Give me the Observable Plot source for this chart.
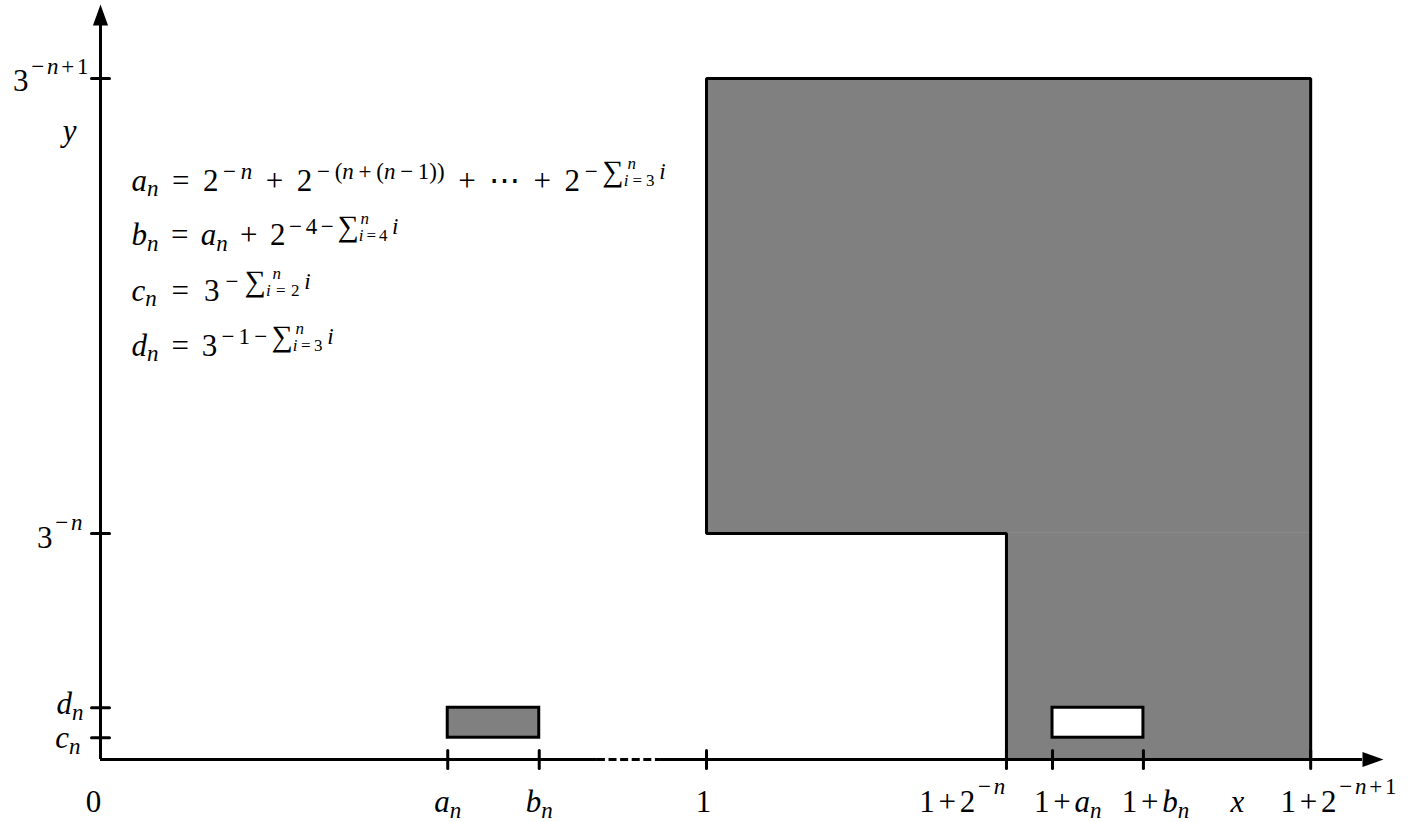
<!DOCTYPE html>
<html>
<head>
<meta charset="utf-8">
<script src="https://cdn.jsdelivr.net/npm/d3@7"></script>
<script src="https://cdn.jsdelivr.net/npm/@observablehq/plot@0.6"></script>
<style>
  html, body { margin: 0; padding: 0; background: #fff; overflow: hidden; }
  svg text, svg tspan { white-space: pre; }
</style>
</head>
<body>
<script>
// ---------- data (schematic units: x = 1 at tick "1", y = 1 at tick 3^{-n+1}) ----------
const xTickValues  = [0.573, 0.724, 1, 1.495, 1.571, 1.721, 1.997];
const xTickLabels  = ["a_{n}", "b_{n}", "1", "1+2^{−n}", "1+a_{n}", "1+b_{n}", "1+2^{−n+1}"];
const xLabelAnchor = [0.573, 0.724, 0.995, 1.422, 1.596, 1.741, 2.043];

const yTickValues  = [0.032, 0.076, 0.332, 1];
const yTickLabels  = ["c_{n}", "d_{n}", "3^{−n}", "3^{−n+1}"];
const yLabelBase   = [0.0176, 0.0675, 0.3113, 0.981];
const yLabelRight  = [-0.033, -0.028, -0.0297, -0.0198];

const axisNames    = ["0", "x", "y"];
const axisNameX    = [-0.0116, 1.876, -0.051];
const axisNameY    = [-0.0764, -0.0764, 0.9075];

const xAxisEnd = 2.0825;
const yAxisEnd = 1.0778;
const xAxisBreak = [0.82, 0.924];

// big shaded region (step shape) and the two small boxes
const shadeParts = [
  {x1: 1, x2: 1.997, y1: 0.332, y2: 1},
  {x1: 1.495, x2: 1.997, y1: 0, y2: 0.332}
];
const shadeOutline = [
  {x: 1.495, y: 0}, {x: 1.495, y: 0.332}, {x: 1, y: 0.332},
  {x: 1, y: 1}, {x: 1.997, y: 1}, {x: 1.997, y: 0}
];
const grayBox  = [{x1: 0.573, x2: 0.724, y1: 0.032, y2: 0.076}];
const whiteBox = [{x1: 1.571, x2: 1.721, y1: 0.032, y2: 0.076}];

const formulas = [
  "a_{n} = 2^{−n} + 2^{−(n+(n−1))} + ⋯ + 2^{−∑_{i=3}^{n}\u2009i}",
  "b_{n} = a_{n} + 2^{−4−∑_{i=4}^{n}\u2009i}",
  "c_{n} = 3^{−∑_{i=2}^{n}\u2009i}",
  "d_{n} = 3^{−1−∑_{i=3}^{n}\u2009i}"
];
const formulaBase = [0.8355, 0.7548, 0.674, 0.5932];
const formulaLeft = 0.0512;

// layout: typeset width (px) of each formula line, as in the reference
const formulaWidthPx = [534, 267, 179, 202];

// ---------- custom symbols ----------
const rOf = size => Math.sqrt(size / Math.PI);
const vTick = {draw(ctx, size) { const r = rOf(size); ctx.moveTo(0, -r); ctx.lineTo(0, r); }};
const hTick = {draw(ctx, size) { const r = rOf(size); ctx.moveTo(-r, 0); ctx.lineTo(r, 0); }};
const arrowUp = {draw(ctx, size) { const r = rOf(size); ctx.moveTo(0, -r); ctx.lineTo(r * 0.36, 0); ctx.lineTo(-r * 0.36, 0); ctx.closePath(); }};
const arrowRight = {draw(ctx, size) { const r = rOf(size); ctx.moveTo(r, 0); ctx.lineTo(0, r * 0.36); ctx.lineTo(0, -r * 0.36); ctx.closePath(); }};

const FONT = "Liberation Serif";
const FS = 31;
const textOpts = {lineAnchor: "bottom", fontFamily: FONT, fontSize: FS, fill: "black"};

const chart = Plot.plot({
  width: 1417,
  height: 822,
  x: {domain: [0, 1], range: [100, 706], axis: null},
  y: {domain: [0, 1], range: [759, 78], axis: null},
  style: {background: "white", overflow: "visible", display: "block"},
  marks: [
    Plot.rect(shadeParts, {x1: "x1", x2: "x2", y1: "y1", y2: "y2", fill: "#808080"}),
    Plot.line(shadeOutline, {x: "x", y: "y", stroke: "black", strokeWidth: 3, strokeLinejoin: "miter", strokeLinecap: "butt"}),
    Plot.rect(grayBox, {x1: "x1", x2: "x2", y1: "y1", y2: "y2", fill: "#808080", stroke: "black", strokeWidth: 3}),
    Plot.rect(whiteBox, {x1: "x1", x2: "x2", y1: "y1", y2: "y2", fill: "white", stroke: "black", strokeWidth: 3}),
    // axes
    Plot.ruleX([0], {y1: 0, y2: yAxisEnd, stroke: "black", strokeWidth: 3}),
    Plot.ruleY([{a: 0, b: xAxisBreak[0]}, {a: xAxisBreak[1], b: xAxisEnd}], {x1: "a", x2: "b", y: 0, stroke: "black", strokeWidth: 3}),
    Plot.ruleY([{a: xAxisBreak[0], b: xAxisBreak[1]}], {x1: "a", x2: "b", y: 0, stroke: "black", strokeWidth: 3, strokeDasharray: "8,3.6"}),
    Plot.dot([0], {x: xAxisEnd, y: 0, symbol: arrowRight, r: 21, fill: "black", stroke: "none"}),
    Plot.dot([0], {x: 0, y: yAxisEnd, symbol: arrowUp, r: 21, fill: "black", stroke: "none"}),
    // ticks
    Plot.dot(xTickValues, {x: d => d, y: 0, symbol: vTick, r: 9, fill: "none", stroke: "black", strokeWidth: 3, strokeLinecap: "round"}),
    Plot.dot(yTickValues, {x: 0, y: d => d, symbol: hTick, r: 9, fill: "none", stroke: "black", strokeWidth: 3, strokeLinecap: "round"}),
    // tick labels, axis names, formulas
    Plot.text(xTickLabels, {x: (d, i) => xLabelAnchor[i], y: -0.0764, text: d => d, textAnchor: "middle", ...textOpts}),
    Plot.text(yTickLabels, {x: (d, i) => yLabelRight[i], y: (d, i) => yLabelBase[i], text: d => d, textAnchor: "end", ...textOpts}),
    Plot.text(axisNames, {x: (d, i) => axisNameX[i], y: (d, i) => axisNameY[i], text: d => d, textAnchor: "middle", ...textOpts}),
    Plot.text(formulas, {x: formulaLeft, y: (d, i) => formulaBase[i], text: d => d, textAnchor: "start", ...textOpts})
  ]
});
document.body.appendChild(chart);

// ---------- tiny math typesetter: turns "a_{n}^{...}" text into tspans ----------
const NS = "http://www.w3.org/2000/svg";
const SIZES = [FS, 23, 17];
const OPS = "+−=";
const OP_PAD = 0.12; // extra side bearing (em) for binary operators, like TeX's wide +, −, =
function parseMath(s) {
  let i = 0;
  function seq(inBrace) {
    const out = [];
    while (i < s.length) {
      const ch = s[i];
      if (ch === "}") { i++; if (inBrace) return out; continue; }
      if (ch === "_" || ch === "^") {
        const g = {type: "script", sub: null, sup: null};
        while (i < s.length && (s[i] === "_" || s[i] === "^")) {
          const kind = s[i++];
          let content;
          if (s[i] === "{") { i++; content = seq(true); }
          else { content = [{type: "char", c: s[i]}]; i++; }
          if (kind === "_") g.sub = content; else g.sup = content;
        }
        out.push(g);
        continue;
      }
      out.push({type: "char", c: ch});
      i++;
    }
    return out;
  }
  return seq(false);
}
const addDx = (t, v) => t.setAttribute("dx", ((+t.getAttribute("dx") || 0) + v).toFixed(2));
function typeset(textEl, cfg) {
  const nodes = parseMath(textEl.textContent);
  textEl.textContent = "";
  let cur = 0;
  let pendingDx = 0;
  const fixes = [];
  const opSpans = [];
  function run(str, size, off, italic, op) {
    const t = document.createElementNS(NS, "tspan");
    t.textContent = str;
    t.setAttribute("font-size", size.toFixed(1));
    t.setAttribute("font-family", FONT);
    if (italic) t.setAttribute("font-style", "italic");
    const pad = op ? OP_PAD * size : 0;
    const dx = pendingDx + pad;
    if (dx) t.setAttribute("dx", dx.toFixed(2));
    pendingDx = pad;
    if (off !== cur) { t.setAttribute("dy", (cur - off).toFixed(2)); cur = off; }
    textEl.appendChild(t);
    if (op) opSpans.push(t);
    return t;
  }
  function emit(list, level, off) {
    const made = [];
    const sz = SIZES[level];
    let buf = "", it = false;
    const flush = () => { if (buf) { made.push(run(buf, sz, off, it, false)); buf = ""; } };
    for (const n of list) {
      if (n.type === "char") {
        if (OPS.includes(n.c)) { flush(); made.push(run(n.c, sz, off, false, true)); continue; }
        if (n.c === "∑") { flush(); made.push(run(n.c, sz * 1.3, off - 0.1 * sz, false, false)); continue; }
        const ni = /[a-z]/i.test(n.c);
        if (buf && ni !== it) flush();
        it = ni; buf += n.c;
      } else {
        flush();
        const nl = Math.min(level + 1, 2);
        if (n.sub && n.sup) {
          const a = emit(n.sub, nl, off - 0.3 * sz);
          const b = emit(n.sup, nl, off + 0.45 * sz);
          made.push(...a, ...b);
          fixes.push({a, b});
        } else if (n.sup) {
          made.push(...emit(n.sup, nl, off + cfg.sup * sz));
        } else {
          made.push(...emit(n.sub, nl, off - cfg.sub * sz));
        }
      }
    }
    flush();
    return made;
  }
  emit(nodes, 0, 0);
  for (const {a, b} of fixes) {
    const wa = d3.sum(a, t => t.getComputedTextLength() + (+t.getAttribute("dx") || 0));
    const wb = d3.sum(b, t => t.getComputedTextLength() + (+t.getAttribute("dx") || 0));
    b[0].setAttribute("dx", (-wa).toFixed(2));
    const next = b[b.length - 1].nextSibling;
    if (next && wa > wb) addDx(next, wa - wb);
  }
  // widen operator spacing so the line spans the reference width (TeX's wider glyphs/spacing)
  if (cfg.width && opSpans.length) {
    const extra = cfg.width - textEl.getBBox().width;
    if (extra > 0) {
      const half = extra / (2 * opSpans.length);
      for (const t of opSpans) {
        addDx(t, half);
        if (t.nextSibling) addDx(t.nextSibling, half);
      }
    }
  }
}
const textGroups = chart.querySelectorAll('g[aria-label="text"]');
textGroups.forEach((g, gi) => {
  const isFormula = gi === textGroups.length - 1;
  g.querySelectorAll("text").forEach((t, i) => typeset(t, isFormula
    ? {sup: 0.37, sub: 0.17, width: formulaWidthPx[i]}
    : {sup: 0.55, sub: 0.2}));
});
</script>
</body>
</html>
